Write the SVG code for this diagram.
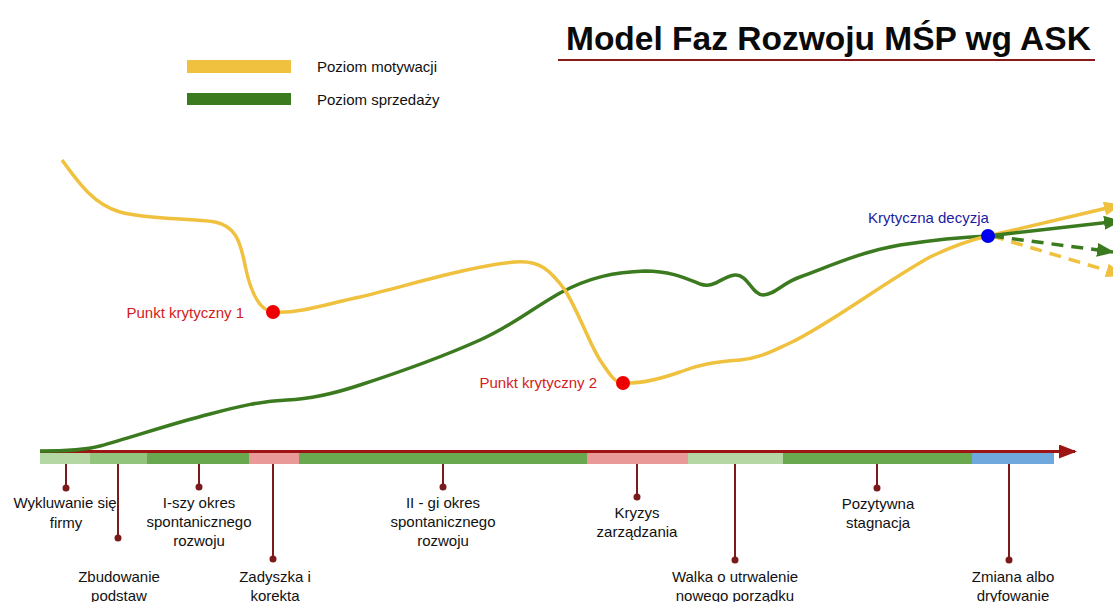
<svg xmlns="http://www.w3.org/2000/svg" width="1113" height="602" viewBox="0 0 1113 602">
<defs>
<style>
text{font-family:"Liberation Sans",Arial,sans-serif;}
.lbl{font-size:15px;fill:#111;text-anchor:middle;}
.pin{stroke:#7a1a1a;stroke-width:2;fill:none;}
.dot{fill:#7a1a1a;}
.yel{stroke:#efc13e;stroke-width:3.5;fill:none;}
.grn{stroke:#3b7a1f;stroke-width:3.5;fill:none;}
.crit{font-size:15px;fill:#d42020;text-anchor:end;}
</style>
<marker id="ahY" markerUnits="userSpaceOnUse" markerWidth="18" markerHeight="14" refX="16" refY="7" orient="auto"><path d="M0,0 L18,7 L0,14 Z" fill="#efc13e"/></marker>
<marker id="ahG" markerUnits="userSpaceOnUse" markerWidth="18" markerHeight="14" refX="16" refY="7" orient="auto"><path d="M0,0 L18,7 L0,14 Z" fill="#3b7a1f"/></marker>
<marker id="ahA" markerUnits="userSpaceOnUse" markerWidth="18" markerHeight="14" refX="16" refY="7" orient="auto"><path d="M0,0 L18,7 L0,14 Z" fill="#9c1414"/></marker>
</defs>
<rect width="1113" height="602" fill="#fff"/>

<g id="title">
<text x="566" y="50" font-size="33.5" font-weight="bold" fill="#0a0a0a">Model Faz Rozwoju MŚP wg ASK</text>
<line x1="558" y1="60" x2="1095" y2="60" stroke="#8b1a1a" stroke-width="2"/>
</g>

<g id="legend">
<rect x="187" y="60" width="104" height="13" fill="#efc13e"/>
<text x="317" y="72" font-size="15" fill="#111">Poziom motywacji</text>
<rect x="187" y="93" width="104" height="12" fill="#3b7a1f"/>
<text x="317" y="105" font-size="15" fill="#111">Poziom sprzedaży</text>
</g>

<g id="timeline">
<rect x="40" y="453" width="51" height="11" fill="#b5d7a3"/>
<rect x="90" y="453" width="57" height="11" fill="#93c47d"/>
<rect x="147" y="453" width="102" height="11" fill="#6aa84f"/>
<rect x="249" y="453" width="50" height="11" fill="#ea9999"/>
<rect x="299" y="453" width="288" height="11" fill="#6aa84f"/>
<rect x="587" y="453" width="101" height="11" fill="#ea9999"/>
<rect x="688" y="453" width="95" height="11" fill="#b5d7a3"/>
<rect x="783" y="453" width="189" height="11" fill="#6aa84f"/>
<rect x="972" y="453" width="82" height="11" fill="#6fa8dc"/>
<line x1="40" y1="451.5" x2="1075" y2="451.5" stroke="#9c1414" stroke-width="3" marker-end="url(#ahA)"/>
</g>

<g id="connectors">
<path class="grn" d="M40,451 C70,451 85,450 100,446 C130,438 170,424 210,414 C240,406 262,401 287,400 C310,399 330,395 360,385 C400,372 440,358 480,340 C510,327 530,310 560,293 C590,277 615,272 645,271 C670,271 685,278 700,284 C715,289 722,276 735,275 C748,274 752,295 763,295 C775,295 782,283 800,277 C830,266 860,252 900,245 C940,239 965,237 988,236"/>
<path class="yel" d="M62,160 C80,185 95,205 120,212 C150,220 190,218 215,222 C235,226 240,240 245,265 C250,290 258,310 273,312 C300,314 330,303 360,297 C410,285 470,266 515,262 C540,260 550,270 565,290 C580,315 590,345 600,360 C610,375 615,383 623,383 C640,384 660,379 680,372 C700,364 715,362 740,360 C760,358 770,352 790,343 C830,324 880,285 930,257 C955,245 970,240 988,236"/>
<line class="yel" x1="988" y1="236" x2="1120" y2="205" marker-end="url(#ahY)"/>
<line class="grn" x1="988" y1="236" x2="1120" y2="221" marker-end="url(#ahG)"/>
<line class="yel" x1="992" y1="236" x2="1122" y2="275" stroke-dasharray="12,8" marker-end="url(#ahY)"/>
<line class="grn" x1="992" y1="236" x2="1113" y2="252" stroke-dasharray="12,8" marker-end="url(#ahG)"/>
</g>

<g id="punkt1">
<circle cx="273" cy="312" r="7" fill="#ee0000"/>
<text class="crit" x="244" y="318">Punkt krytyczny 1</text>
</g>
<g id="punkt2">
<circle cx="623" cy="383" r="7" fill="#ee0000"/>
<text class="crit" x="597" y="388">Punkt krytyczny 2</text>
</g>
<g id="decyzja">
<circle cx="988" cy="236" r="7" fill="#0000ee"/>
<text x="868" y="223" font-size="15" fill="#1c1ca0">Krytyczna decyzja</text>
</g>

<g id="ph-wykluwanie">
<line class="pin" x1="66" y1="464" x2="66" y2="488"/><circle class="dot" cx="66" cy="488" r="3.5"/>
<text class="lbl" x="65" y="508">Wykluwanie się</text><text class="lbl" x="66" y="528">firmy</text>
</g>
<g id="ph-zbudowanie">
<line class="pin" x1="118" y1="464" x2="118" y2="538"/><circle class="dot" cx="118" cy="538" r="3.5"/>
<text class="lbl" x="119" y="582">Zbudowanie</text><text class="lbl" x="119" y="601">podstaw</text>
</g>
<g id="ph-iszy">
<line class="pin" x1="199" y1="464" x2="199" y2="487"/><circle class="dot" cx="199" cy="487" r="3.5"/>
<text class="lbl" x="199" y="508">I-szy okres</text><text class="lbl" x="199" y="527">spontanicznego</text><text class="lbl" x="199" y="546">rozwoju</text>
</g>
<g id="ph-zadyszka">
<line class="pin" x1="273" y1="464" x2="273" y2="559"/><circle class="dot" cx="273" cy="559" r="3.5"/>
<text class="lbl" x="275" y="582">Zadyszka i</text><text class="lbl" x="275" y="601">korekta</text>
</g>
<g id="ph-iigi">
<line class="pin" x1="443" y1="464" x2="443" y2="487"/><circle class="dot" cx="443" cy="487" r="3.5"/>
<text class="lbl" x="443" y="508">II - gi okres</text><text class="lbl" x="443" y="527">spontanicznego</text><text class="lbl" x="443" y="546">rozwoju</text>
</g>
<g id="ph-kryzys">
<line class="pin" x1="637" y1="464" x2="637" y2="497"/><circle class="dot" cx="637" cy="497" r="3.5"/>
<text class="lbl" x="637" y="518">Kryzys</text><text class="lbl" x="637" y="537">zarządzania</text>
</g>
<g id="ph-walka">
<line class="pin" x1="735" y1="464" x2="735" y2="560"/><circle class="dot" cx="735" cy="560" r="3.5"/>
<text class="lbl" x="735" y="582">Walka o utrwalenie</text><text class="lbl" x="735" y="601">nowego porządku</text>
</g>
<g id="ph-pozytywna">
<line class="pin" x1="877" y1="464" x2="877" y2="488"/><circle class="dot" cx="877" cy="488" r="3.5"/>
<text class="lbl" x="878" y="509">Pozytywna</text><text class="lbl" x="878" y="528">stagnacja</text>
</g>
<g id="ph-zmiana">
<line class="pin" x1="1009" y1="464" x2="1009" y2="560"/><circle class="dot" cx="1009" cy="560" r="3.5"/>
<text class="lbl" x="1013" y="582">Zmiana albo</text><text class="lbl" x="1013" y="601">dryfowanie</text>
</g>
</svg>
